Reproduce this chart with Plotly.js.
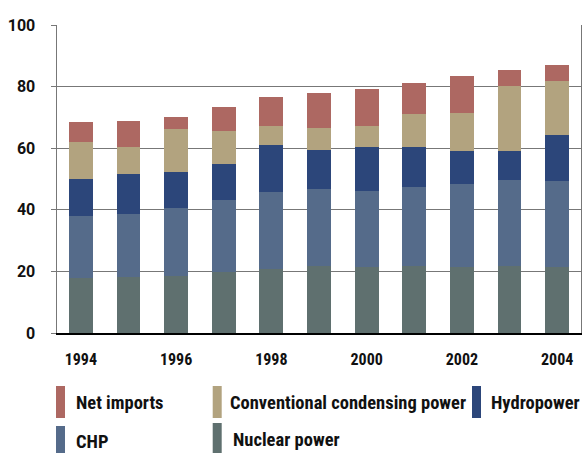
<!DOCTYPE html>
<html><head><meta charset="utf-8">
<script src="https://cdn.plot.ly/plotly-3.0.1.min.js"></script>
<style>html,body{margin:0;padding:0;background:#fff}#chart{width:582px;height:453px}</style>
</head><body><div id="chart"></div>
<script>
const years = [1994,1995,1996,1997,1998,1999,2000,2001,2002,2003,2004];
const xTickVals = [1994,1996,1998,2000,2002,2004];
const xTickText = ['1994','1996','1998','2000','2002','2004'];
const yTickVals = [0,20,40,60,80,100];
const nuclear = [17.8,18.3,18.6,19.9,20.9,21.9,21.5,21.9,21.5,21.9,21.5];
const chp = [20.3,20.4,22.0,23.3,24.9,24.9,24.7,25.6,26.9,27.8,27.9];
const hydro = [12.0,13.0,11.7,11.7,15.3,12.7,14.2,12.9,10.7,9.4,14.9];
const conventional = [12.0,8.7,14.0,10.7,6.1,7.1,6.8,10.7,12.4,21.1,17.5];
const netImports = [6.4,8.5,3.9,7.8,9.4,11.3,12.0,10.1,12.0,5.2,5.2];
const seriesNames = ['Nuclear power','CHP','Hydropower','Conventional condensing power','Net imports'];
const seriesData = [nuclear, chp, hydro, conventional, netImports];
const seriesColors = ['#5f706f','#556b8a','#2c467a','#b2a37f','#ad6862'];

const traces = seriesData.map((d,i)=>({
  type:'bar', x:years, y:d, name:seriesNames[i],
  marker:{color:seriesColors[i], line:{width:0}}, hoverinfo:'x+y+name'
}));

const condFont = {family:'"Roboto Condensed", Roboto, sans-serif', size:18.5, color:'#111', weight:'bold'};

// custom legend (layout only): order and placement
const legendOrder = [4,3,2,1,0];
const legendPos = [
  {sx:56, y0:386, y1:418, tx:74, ty:402.7},
  {sx:212.7, y0:386, y1:418, tx:228, ty:402.7},
  {sx:472, y0:386, y1:418, tx:489, ty:402.7},
  {sx:56, y0:426, y1:453, tx:74, ty:441.5},
  {sx:212.7, y0:423, y1:453, tx:230.5, ty:439.5}
];
const W=582, H=453;
const shapes=[], annotations=[];
legendOrder.forEach((si,k)=>{
  const p=legendPos[k];
  shapes.push({type:'rect', xref:'paper', yref:'paper', layer:'above',
    x0:(p.sx-57)/524, x1:(p.sx+9-57)/524,
    y0:(333-p.y1)/308, y1:(333-p.y0)/308,
    fillcolor:seriesColors[si], line:{width:0}});
  annotations.push({xref:'paper', yref:'paper', x:(p.tx-57)/524, y:(333-p.ty)/308,
    xanchor:'left', yanchor:'middle', showarrow:false, text:seriesNames[si], font:condFont});
});

const layout = {
  width:W, height:H,
  margin:{l:57, r:1, t:25, b:120},
  paper_bgcolor:'#fff', plot_bgcolor:'#fff',
  barmode:'stack', bargap:0.5, showlegend:false,
  xaxis:{type:'linear', range:[1993.5,2004.5], tickvals:xTickVals, ticktext:xTickText,
    showgrid:false, zeroline:false, showline:true, linecolor:'#000', linewidth:1.5,
    ticks:'', ticklabelstandoff:11,
    tickfont:{family:'"Roboto Condensed", Roboto, sans-serif', size:16, color:'#111', weight:'bold'}},
  yaxis:{range:[0,100], tickvals:yTickVals, showgrid:true, gridcolor:'#777', gridwidth:1,
    zeroline:false, showline:true, linecolor:'#777', linewidth:1.5, mirror:true,
    ticks:'outside', ticklen:5, tickcolor:'#777', ticklabelstandoff:12,
    tickfont:{family:'Roboto', size:16, color:'#111', weight:'bold'}},
  shapes:shapes, annotations:annotations
};
Plotly.newPlot('chart', traces, layout, {displayModeBar:false, staticPlot:true});
</script></body></html>
